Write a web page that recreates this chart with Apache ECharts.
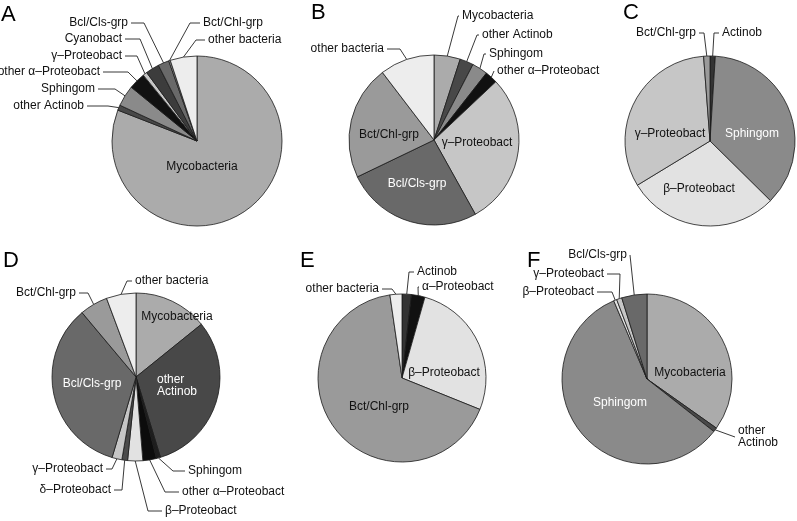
<!DOCTYPE html>
<html><head><meta charset="utf-8">
<script src="https://cdn.jsdelivr.net/npm/echarts@6/dist/echarts.min.js"></script>
<style>html,body{margin:0;padding:0;background:#fff}#c{width:797px;height:521px}</style>
</head><body><div id="c"></div>
<script>
// ---- data (percent of clones) ----
const namesA = ['Mycobacteria','other Actinob','Sphingom','other α–Proteobact','γ–Proteobact','Cyanobact','Bcl/Cls-grp','Bct/Chl-grp','other bacteria'];
const valuesA = [81.0, 1.0, 4.0, 3.2, 0.8, 2.6, 2.1, 0.3, 5.1];

const namesB = ['Mycobacteria','other Actinob','Sphingom','other α–Proteobact','γ–Proteobact','Bcl/Cls-grp','Bct/Chl-grp','other bacteria'];
const valuesB = [5.0, 2.6, 3.0, 2.4, 29.0, 26.0, 21.8, 10.4];

const namesC = ['Actinob','Sphingom','β–Proteobact','γ–Proteobact','Bct/Chl-grp'];
const valuesC = [1.0, 36.4, 28.9, 32.5, 1.2];

const namesD = ['Mycobacteria','other Actinob','Sphingom','other α–Proteobact','β–Proteobact','δ–Proteobact','γ–Proteobact','Bcl/Cls-grp','Bct/Chl-grp','other bacteria'];
const valuesD = [14.2, 31.1, 0.8, 2.6, 2.9, 1.1, 1.9, 34.3, 5.4, 5.7];

const namesE = ['Actinob','α–Proteobact','β–Proteobact','Bct/Chl-grp','other bacteria'];
const valuesE = [1.8, 2.6, 26.7, 66.6, 2.3];

const namesF = ['Mycobacteria','other Actinob','Sphingom','β–Proteobact','γ–Proteobact','Bcl/Cls-grp'];
const valuesF = [34.8, 0.8, 58.0, 0.6, 1.0, 4.8];

const panelLetters = ['A','B','C','D','E','F'];

// ---- styles ----
const COLORS = {
  'Mycobacteria':'#ababab','other Actinob':'#484848','Actinob':'#333333','Sphingom':'#8a8a8a',
  'other α–Proteobact':'#111111','α–Proteobact':'#111111','γ–Proteobact':'#c6c6c6','β–Proteobact':'#e2e2e2',
  'δ–Proteobact':'#4a4a4a','Bcl/Cls-grp':'#696969','Bct/Chl-grp':'#9a9a9a','other bacteria':'#ededed','Cyanobact':'#3c3c3c'
};
const FONT = "'Liberation Sans', Arial, Helvetica, sans-serif";

// layout: per slice either inside label {in:[x,y], white, text, align} or outside {out:[x,y,align,elbowX]}
const panels = [
  {names:namesA, values:valuesA, center:[197,141], r:85, letter:[1,4], layout:[
    {in:[202,167]}, {out:[84,106,'right',108]}, {out:[95,89,'right',115]}, {out:[100,72,'right',128]},
    {out:[122,56,'right',137]}, {out:[122,39,'right',140]}, {out:[128,23,'right',144]},
    {out:[203,23,'left',190]}, {out:[208,40,'left',196]} ]},
  {names:namesB, values:valuesB, center:[434,140], r:85, letter:[311,2], layout:[
    {out:[462,16,'left',458]}, {out:[482,35,'left',477]}, {out:[489,54,'left',484]}, {out:[497,71,'left',494]},
    {in:[477,143]}, {in:[417,184], white:true}, {in:[389,135]}, {out:[384,49,'right',400]} ]},
  {names:namesC, values:valuesC, center:[710,141], r:85, letter:[623,2], layout:[
    {out:[722,33,'left',714]}, {in:[752,134], white:true}, {in:[699,189]}, {in:[670,134]}, {out:[696,33,'right',704]} ]},
  {names:namesD, values:valuesD, center:[136,377], r:84, letter:[3,250], colors:{'Sphingom':'#1e1e1e','other α–Proteobact':'#0c0c0c'}, layout:[
    {in:[177,317]}, {in:[157,386], white:true, text:'other\nActinob', align:'left'}, {out:[188,471,'left',173]},
    {out:[182,492,'left',165]}, {out:[165,511,'left',148]}, {out:[111,490,'right',122]}, {out:[103,469,'right',112]},
    {in:[92,384], white:true}, {out:[76,293,'right',88]}, {out:[135,281,'left',127]} ]},
  {names:namesE, values:valuesE, center:[402,378], r:84, letter:[300,250], layout:[
    {out:[417,272,'left',409]}, {out:[422,287,'left',418]}, {in:[444,373]}, {in:[379,407]}, {out:[379,289,'right',392]} ]},
  {names:namesF, values:valuesF, center:[647,379], r:85, letter:[527,250], layout:[
    {in:[690,373]}, {out:[738,437,'left',735], text:'other\nActinob'}, {in:[620,403], white:true},
    {out:[594,292,'right',612]}, {out:[604,274,'right',620]}, {out:[627,255,'right',630]} ]}
];

function makeLabelLayout(p) {
  return function(params){
    const L = p.layout[params.dataIndex];
    if (!L) return {};
    if (L.in) {
      return {x:L.in[0], y:L.in[1], align:L.align || 'center', verticalAlign:'middle'};
    }
    const x = L.out[0], y = L.out[1], align = L.out[2], ex = L.out[3];
    const pts = params.labelLinePoints;
    const edge = pts ? [pts[0][0], pts[0][1]] : [x, y];
    const endX = align === 'right' ? x + 3 : x - 3;
    return {x:x, y:y, align:align, verticalAlign:'middle', labelLinePoints:[edge, [ex, y], [endX, y]]};
  };
}

const chart = echarts.init(document.getElementById('c'), null, {renderer:'canvas'});

const series = panels.map((p) => ({
  type:'pie', center:p.center, radius:p.r, startAngle:90, clockwise:true,
  avoidLabelOverlap:false, animation:false, silent:true,
  emphasis:{disabled:true},
  itemStyle:{borderColor:'#1a1a1a', borderWidth:0.8},
  label:{show:true, position:'outside', color:'#111', fontSize:12, fontFamily:FONT, overflow:'none', lineHeight:12},
  labelLine:{show:true, length:6, length2:6, smooth:false, lineStyle:{color:'#222', width:0.9}},
  labelLayout:makeLabelLayout(p),
  data:p.names.map((n, i) => {
    const L = p.layout[i];
    const item = {name:n, value:p.values[i], itemStyle:{color:(p.colors && p.colors[n]) || COLORS[n]}};
    if (L.in) {
      item.label = {position:'inside', color:L.white ? '#ffffff' : '#111111'};
      item.labelLine = {show:false};
    }
    if (L.text) {
      item.label = Object.assign(item.label || {}, {formatter:L.text});
    }
    return item;
  })
}));

const graphic = panels.map((p, i) => ({
  type:'text', left:p.letter[0], top:p.letter[1], silent:true,
  style:{text:panelLetters[i], font:'22px ' + FONT, fill:'#000'}
}));

chart.setOption({
  animation:false,
  series:series,
  graphic:graphic
});
</script></body></html>
